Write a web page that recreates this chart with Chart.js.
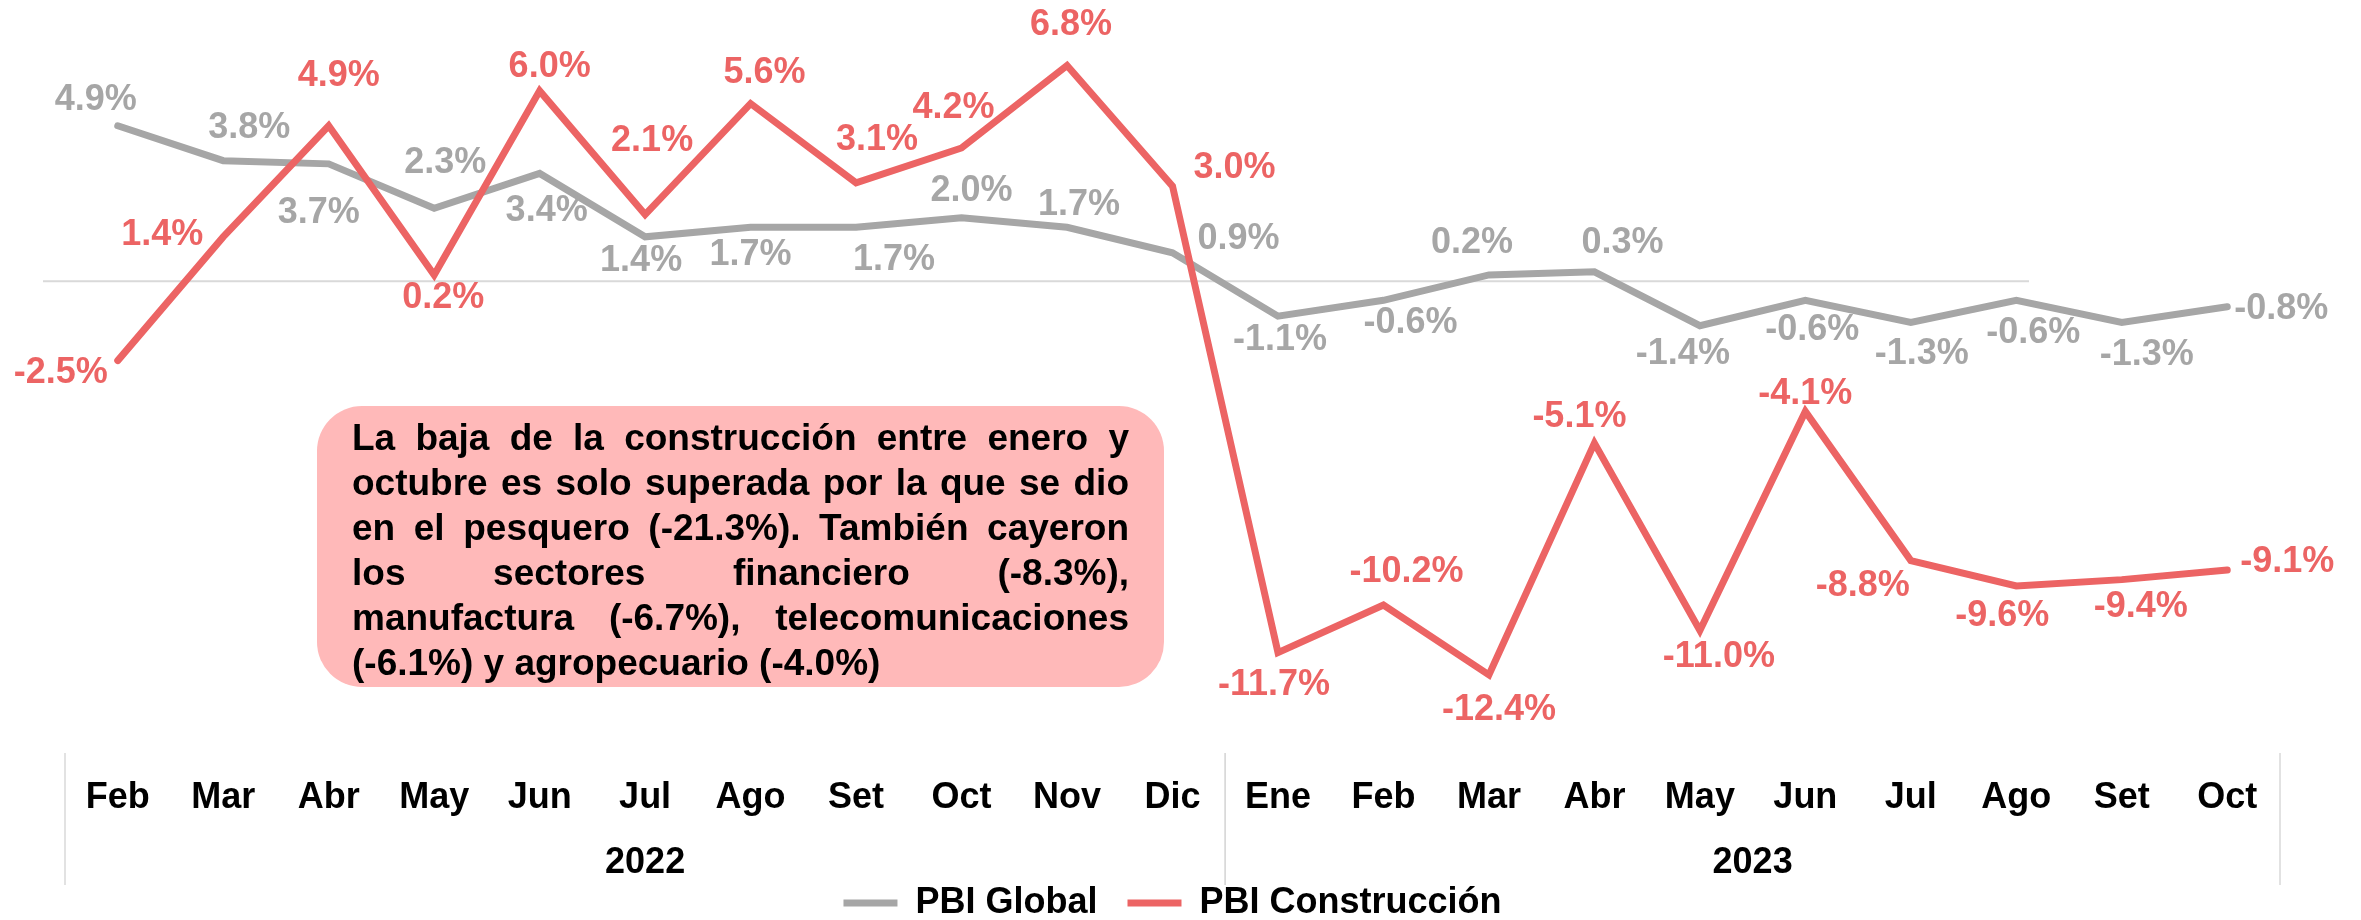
<!DOCTYPE html>
<html>
<head>
<meta charset="utf-8">
<script src="https://cdn.jsdelivr.net/npm/chart.js@4.4.1/dist/chart.umd.min.js"></script>
<style>
  html, body { margin: 0; padding: 0; background: #fff; overflow: hidden; }
  #wrap { position: relative; width: 2361px; height: 920px; overflow: hidden; }
  #c { position: absolute; left: 0; top: 0; }
  #note {
    position: absolute; left: 317px; top: 406px; width: 847px; height: 281px;
    box-sizing: border-box; padding: 9px 35px 0 35px;
    background: #FFB9B9; border-radius: 45px;
    font: bold 37px "Liberation Sans", Arial, sans-serif; line-height: 45px; color: #000;
  }
  #note div { text-align: justify; text-align-last: justify; }
  #note div.last { text-align: left; text-align-last: left; }
</style>
</head>
<body>
<div id="wrap">
  <canvas id="c" width="2361" height="945"></canvas>
  <div id="note">
    <div>La baja de la construcción entre enero y</div>
    <div>octubre es solo superada por la que se dio</div>
    <div>en el pesquero (-21.3%). También cayeron</div>
    <div>los sectores financiero (-8.3%),</div>
    <div>manufactura (-6.7%), telecomunicaciones</div>
    <div class="last">(-6.1%) y agropecuario (-4.0%)</div>
  </div>
</div>
<script>
// datos
const months = ['Feb', 'Mar', 'Abr', 'May', 'Jun', 'Jul', 'Ago', 'Set', 'Oct', 'Nov', 'Dic',
                'Ene', 'Feb', 'Mar', 'Abr', 'May', 'Jun', 'Jul', 'Ago', 'Set', 'Oct'];
const years = ['2022', '2023'];
const monthsPerYear = [11, 10];
const seriesNames = ['PBI Global', 'PBI Construcción'];
const pbiGlobal = [4.9, 3.8, 3.7, 2.3, 3.4, 1.4, 1.7, 1.7, 2.0, 1.7, 0.9,
                   -1.1, -0.6, 0.2, 0.3, -1.4, -0.6, -1.3, -0.6, -1.3, -0.8];
const pbiConstruccion = [-2.5, 1.4, 4.9, 0.2, 6.0, 2.1, 5.6, 3.1, 4.2, 6.8, 3.0,
                         -11.7, -10.2, -12.4, -5.1, -11.0, -4.1, -8.8, -9.6, -9.4, -9.1];

// posicion de las etiquetas respecto al punto (dx, dy)
const labelOffsets = [
  [[-22, -26], [26, -33], [-10, 49], [11, -45], [7, 38], [-4, 24], [0, 28], [38, 33], [10, -27], [12, -22], [66, -14],
   [2, 24], [27, 23], [-17, -32], [28, -29], [-17, 28], [7, 30], [11, 32], [17, 33], [25, 33], [54, 2]],
  [[-57, 12], [-61, -2], [10, -50], [9, 23], [10, -24], [7, -74], [14, -30], [21, -43], [-8, -40], [4, -40], [62, -18],
   [-4, 32], [23, -33], [10, 35], [-15, -26], [19, 27], [0, -17], [-48, 26], [-14, 30], [19, 27], [60, -8]]
];

const FONT = '"Liberation Sans", Arial, sans-serif';
Chart.defaults.font.family = FONT;
Chart.defaults.font.weight = 'bold';
Chart.defaults.font.size = 36;

const decor = {
  id: 'decor',
  beforeDatasetsDraw(chart) {
    const { ctx, scales: { y } } = chart;
    const y0 = y.getPixelForValue(0);
    ctx.save();
    ctx.strokeStyle = '#D9D9D9';
    ctx.lineWidth = 2;
    ctx.beginPath();
    ctx.moveTo(43, y0);
    ctx.lineTo(2029, y0);
    ctx.stroke();
    ctx.restore();
  },
  afterDatasetsDraw(chart) {
    const ctx = chart.ctx;
    ctx.save();
    ctx.font = 'bold 36px ' + FONT;
    ctx.textAlign = 'center';
    ctx.textBaseline = 'middle';
    chart.data.datasets.forEach((ds, di) => {
      const meta = chart.getDatasetMeta(di);
      ctx.fillStyle = ds.borderColor;
      meta.data.forEach((pt, i) => {
        const off = labelOffsets[di][i];
        ctx.fillText(ds.data[i].toFixed(1) + '%', pt.x + off[0], pt.y + off[1]);
      });
    });
    ctx.restore();
  },
  afterDraw(chart) {
    const { ctx, chartArea, scales: { x } } = chart;
    const half = (x.getPixelForValue(1) - x.getPixelForValue(0)) / 2;
    const top = chartArea.bottom + 2;
    const bottom = chartArea.bottom + 134;
    ctx.save();
    ctx.strokeStyle = '#D9D9D9';
    ctx.lineWidth = 1.5;
    ctx.font = 'bold 36px ' + FONT;
    ctx.fillStyle = '#000';
    ctx.textAlign = 'center';
    ctx.textBaseline = 'middle';
    let start = 0;
    years.forEach((yr, k) => {
      const end = start + monthsPerYear[k] - 1;
      const left = x.getPixelForValue(start) - half;
      const right = x.getPixelForValue(end) + half;
      ctx.beginPath();
      ctx.moveTo(left, top); ctx.lineTo(left, bottom);
      ctx.moveTo(right, top); ctx.lineTo(right, bottom);
      ctx.stroke();
      ctx.fillText(yr, (left + right) / 2, chartArea.bottom + 112);
      start = end + 1;
    });
    ctx.restore();
  }
};

new Chart(document.getElementById('c'), {
  type: 'line',
  data: {
    labels: months,
    datasets: [
      {
        label: seriesNames[0],
        data: pbiGlobal,
        borderColor: '#A6A6A6',
        backgroundColor: '#A6A6A6',
        borderWidth: 7,
        pointRadius: 0,
        borderCapStyle: 'round',
        borderJoinStyle: 'miter',
        order: 1
      },
      {
        label: seriesNames[1],
        data: pbiConstruccion,
        borderColor: '#EC6464',
        backgroundColor: '#EC6464',
        borderWidth: 7,
        pointRadius: 0,
        borderCapStyle: 'round',
        borderJoinStyle: 'miter',
        order: 0
      }
    ]
  },
  options: {
    responsive: false,
    animation: false,
    layout: { padding: { left: 65, right: 81, top: 2, bottom: 14 } },
    scales: {
      x: {
        offset: true,
        grid: { display: false, drawTicks: false },
        border: { display: false },
        ticks: { color: '#000', padding: 25, maxRotation: 0, autoSkip: false },
        afterFit(scale) { scale.height = 104; }
      },
      y: { display: false, min: -14.8, max: 8.8 }
    },
    plugins: {
      legend: {
        position: 'bottom',
        labels: {
          usePointStyle: true,
          pointStyle: 'line',
          pointStyleWidth: 54,
          padding: 30,
          color: '#000',
          sort: (a, b) => a.datasetIndex - b.datasetIndex
        }
      },
      tooltip: { enabled: false }
    }
  },
  plugins: [decor]
});
</script>
</body>
</html>
